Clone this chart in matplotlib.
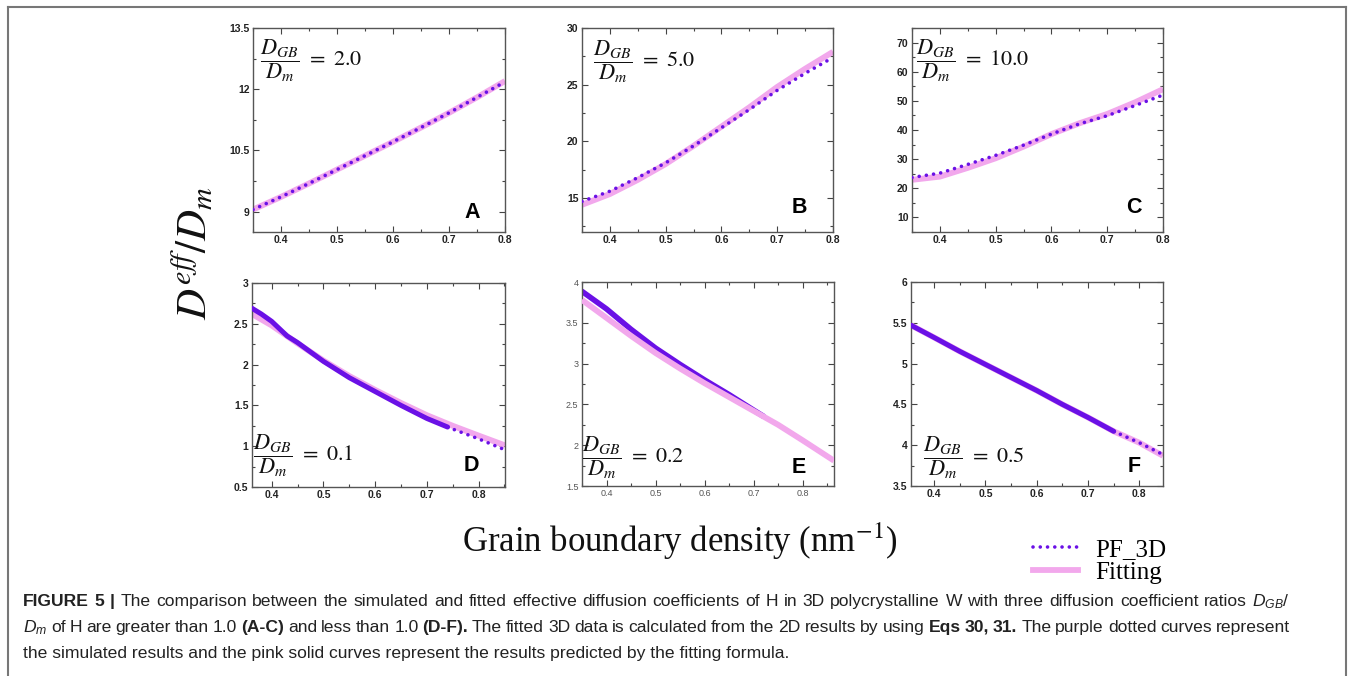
import matplotlib
matplotlib.use("Agg")
import matplotlib.pyplot as plt
from matplotlib.lines import Line2D
from matplotlib.ticker import MultipleLocator, FormatStrFormatter

plt.rcParams["mathtext.fontset"] = "custom"
plt.rcParams["mathtext.rm"] = "Liberation Sans"
plt.rcParams["mathtext.it"] = "Liberation Sans:italic"
plt.rcParams["mathtext.bf"] = "Liberation Sans:bold"

# ---------------- data ----------------
# D_GB/D_m > 1 (panels A-C)
x_hi = [0.35, 0.40, 0.45, 0.50, 0.55, 0.60, 0.65, 0.70, 0.75, 0.80]
pf_A = [9.05, 9.36, 9.69, 10.03, 10.37, 10.71, 11.06, 11.42, 11.80, 12.18]
fit_A = [9.05, 9.36, 9.69, 10.03, 10.37, 10.71, 11.06, 11.42, 11.80, 12.20]
pf_B = [14.7, 15.6, 16.8, 18.1, 19.6, 21.2, 22.8, 24.5, 26.0, 27.4]
fit_B = [14.4, 15.35, 16.6, 18.0, 19.6, 21.3, 23.0, 24.8, 26.4, 27.9]
pf_C = [23.7, 25.2, 28.2, 31.3, 34.8, 38.6, 42.1, 44.9, 48.4, 52.0]
fit_C = [22.9, 24.0, 27.0, 30.3, 34.3, 38.6, 42.3, 45.5, 49.5, 54.0]

# D_GB/D_m < 1 (panels D-F)
x_D = [0.362, 0.38, 0.40, 0.43, 0.45, 0.50, 0.55, 0.60, 0.65, 0.70, 0.74, 0.75, 0.80, 0.851]
pf_D = [2.69, 2.62, 2.53, 2.35, 2.27, 2.04, 1.84, 1.67, 1.50, 1.34, 1.235, 1.21, 1.09, 0.955]
xf_D = [0.362, 0.40, 0.45, 0.50, 0.55, 0.60, 0.65, 0.70, 0.75, 0.80, 0.851]
fit_D = [2.62, 2.48, 2.26, 2.05, 1.86, 1.69, 1.53, 1.38, 1.25, 1.13, 1.01]

x_E = [0.35, 0.40, 0.45, 0.50, 0.55, 0.60, 0.65, 0.70, 0.72]
pf_E = [3.885, 3.67, 3.42, 3.19, 2.99, 2.80, 2.62, 2.43, 2.355]
xf_E = [0.35, 0.40, 0.45, 0.50, 0.55, 0.60, 0.65, 0.70, 0.75, 0.80, 0.864]
fit_E = [3.78, 3.56, 3.34, 3.13, 2.94, 2.76, 2.59, 2.42, 2.25, 2.06, 1.81]

x_F = [0.355, 0.40, 0.45, 0.50, 0.55, 0.60, 0.65, 0.70, 0.75, 0.80, 0.846]
pf_F = [5.47, 5.32, 5.15, 4.99, 4.83, 4.67, 4.50, 4.34, 4.17, 4.03, 3.885]
fit_F = [5.47, 5.32, 5.15, 4.99, 4.83, 4.67, 4.50, 4.34, 4.17, 4.03, 3.87]

ratios = ["2.0", "5.0", "10.0", "0.1", "0.2", "0.5"]
letters = ["A", "B", "C", "D", "E", "F"]

PURPLE = "#6a10e6"
PINK = "#f2a8ec"

fig = plt.figure(figsize=(13.54, 6.76), dpi=100)
W, H = 1354.0, 676.0


def axes_px(x0, x1, y0, y1):
    return fig.add_axes([x0 / W, 1 - y1 / H, (x1 - x0) / W, (y1 - y0) / H])


def style(ax, xlim, ylim, ymaj, ymin, bold=True, lsize=7.5):
    ax.set_xlim(*xlim)
    ax.set_ylim(*ylim)
    ax.xaxis.set_major_locator(MultipleLocator(0.1))
    ax.xaxis.set_minor_locator(MultipleLocator(0.05))
    ax.yaxis.set_major_locator(MultipleLocator(ymaj))
    ax.yaxis.set_minor_locator(MultipleLocator(ymin))
    ax.xaxis.set_major_formatter(FormatStrFormatter("%g"))
    ax.yaxis.set_major_formatter(FormatStrFormatter("%g"))
    ax.tick_params(which="both", direction="in", top=True, right=True,
                   color="#444444", width=0.8)
    ax.tick_params(which="major", length=4, pad=2.5)
    ax.tick_params(which="minor", length=2.5)
    for lab in ax.get_xticklabels() + ax.get_yticklabels():
        lab.set_fontfamily("Liberation Sans")
        lab.set_fontweight("bold" if bold else "normal")
        lab.set_fontsize(lsize)
        lab.set_color("#222222" if bold else "#555555")
    for s in ax.spines.values():
        s.set_color("#555555")
        s.set_linewidth(1.0)


def dotted(ax, x, y, z=3):
    ax.plot(x, y, color=PURPLE, lw=2.6, dashes=(0.01, 2.0),
            dash_capstyle="round", solid_capstyle="round", zorder=z)


def fitline(ax, x, y, z=2):
    ax.plot(x, y, color=PINK, lw=4.2, solid_capstyle="butt", zorder=z)


def label(ax, ratio, letter, fx, fy, lx, ly):
    ax.text(fx, fy, r"$\dfrac{D_{GB}}{D_m}\ =\ %s$" % ratio, transform=ax.transAxes,
            fontsize=16, math_fontfamily="stix", ha="left", va="center",
            color="#111111", zorder=5)
    ax.text(lx, ly, letter, transform=ax.transAxes, fontsize=15.5,
            fontfamily="Liberation Sans", fontweight="bold", ha="center",
            va="center", color="black", zorder=5)


# ---------------- top row ----------------
axA = axes_px(253, 505, 28, 232)
fitline(axA, x_hi, fit_A)
dotted(axA, x_hi, pf_A)
style(axA, (0.35, 0.8), (8.5, 13.5), 1.5, 0.75)
label(axA, ratios[0], letters[0], 0.028, 0.843, 0.869, 0.098)

axB = axes_px(582, 833, 28, 232)
fitline(axB, x_hi, fit_B)
dotted(axB, x_hi, pf_B)
style(axB, (0.35, 0.8), (12, 30), 5, 2.5)
label(axB, ratios[1], letters[1], 0.043, 0.838, 0.865, 0.118)

axC = axes_px(912, 1163, 28, 232)
fitline(axC, x_hi, fit_C)
dotted(axC, x_hi, pf_C)
style(axC, (0.35, 0.8), (5, 75), 10, 5)
label(axC, ratios[2], letters[2], 0.016, 0.843, 0.884, 0.12)

# ---------------- bottom row ----------------
axD = axes_px(252, 505, 283, 487)
fitline(axD, xf_D, fit_D)
k = x_D.index(0.74) + 1
axD.plot(x_D[:k], pf_D[:k], color=PURPLE, lw=3.6, solid_capstyle="round", zorder=3)
dotted(axD, x_D[k - 1:], pf_D[k - 1:])
style(axD, (0.362, 0.851), (0.5, 3), 0.5, 0.25)
label(axD, ratios[3], letters[3], 0.005, 0.153, 0.868, 0.103)

axE = axes_px(582, 834, 282, 486)
axE.plot(x_E, pf_E, color=PURPLE, lw=4.0, solid_capstyle="round", zorder=2)
fitline(axE, xf_E, fit_E, z=3)
style(axE, (0.35, 0.864), (1.5, 4), 0.5, 0.25, bold=False, lsize=6.5)
label(axE, ratios[4], letters[4], 0.0, 0.141, 0.862, 0.093)

axF = axes_px(911, 1163, 282, 486)
fitline(axF, x_F, fit_F)
k = x_F.index(0.75) + 1
axF.plot(x_F[:k], pf_F[:k], color=PURPLE, lw=3.6, solid_capstyle="round", zorder=3)
dotted(axF, x_F[k - 1:], pf_F[k - 1:])
style(axF, (0.355, 0.846), (3.5, 6), 0.5, 0.25)
label(axF, ratios[5], letters[5], 0.049, 0.141, 0.885, 0.098)

# ---------------- shared labels ----------------
fig.text(194 / W, 1 - 253 / H, r"$D^{eff}/D_m$", rotation=90, fontsize=31,
         math_fontfamily="stix", ha="center", va="center", color="#111111")
fig.text(680 / W, 1 - 541 / H, r"Grain boundary density (nm$^{-1}$)",
         fontfamily="Liberation Serif", fontsize=25, math_fontfamily="stix",
         ha="center", va="center", color="#111111")

handles = [
    Line2D([], [], color=PURPLE, lw=2.6, dashes=(0.01, 2.0), dash_capstyle="round"),
    Line2D([], [], color=PINK, lw=4.2),
]
fig.legend(handles, ["PF_3D", "Fitting"], loc="center left",
           bbox_to_anchor=(1033 / W, 1 - 561 / H), frameon=False,
           prop={"family": "Liberation Serif", "size": 18},
           handlelength=1.8, handletextpad=0.7, labelspacing=0.0,
           borderpad=0, borderaxespad=0)

# ---------------- caption (justified block) ----------------
CAP_X0, CAP_X1 = 23.0, 1290.0
CAP_SIZE = 12.6
CAP_BASE = [606, 632, 658]
cap_just = [
    "**FIGURE **5 **| The comparison between the simulated and fitted effective diffusion "
    "coefficients of H in 3D polycrystalline W with three diffusion coefficient ratios "
    r"$\mathit{D}_{\mathit{GB}}$/",
    r"$\mathit{D}_{\mathit{m}}$ of H are greater than 1.0 **(A-C) and less than 1.0 "
    "**(D-F). The fitted 3D data is calculated from the 2D results by using "
    "**Eqs **30, **31. The purple dotted curves represent",
]
cap_last = ("the simulated results and the pink solid curves represent the results "
            "predicted by the fitting formula.")

renderer = fig.canvas.get_renderer()
for i, line in enumerate(cap_just):
    y = 1 - CAP_BASE[i] / H
    items = []
    for word in line.split(" "):
        bold = word.startswith("**")
        t = fig.text(0, y, word[2:] if bold else word, fontfamily="Liberation Sans",
                     fontweight="bold" if bold else "normal", fontsize=CAP_SIZE,
                     ha="left", va="baseline", color="#222222", math_fontfamily="custom")
        items.append(t)
    widths = [t.get_window_extent(renderer).width for t in items]
    gap = max((CAP_X1 - CAP_X0 - sum(widths)) / (len(items) - 1), 1.5)
    xpos = CAP_X0
    for t, w in zip(items, widths):
        t.set_x(xpos / W)
        xpos += w + gap

fig.text(CAP_X0 / W, 1 - CAP_BASE[2] / H, cap_last, fontfamily="Liberation Sans",
         fontsize=CAP_SIZE, ha="left", va="baseline", color="#222222")

# ---------------- page frame ----------------
frame = dict(color="#777777", lw=1.5, transform=fig.transFigure)
fig.add_artist(Line2D([8 / W, 1346 / W], [1 - 6.5 / H, 1 - 6.5 / H], **frame))
fig.add_artist(Line2D([8 / W, 8 / W], [0, 1 - 6.5 / H], **frame))
fig.add_artist(Line2D([1346 / W, 1346 / W], [0, 1 - 6.5 / H], **frame))

fig.savefig("out.png", dpi=100, facecolor="white")
